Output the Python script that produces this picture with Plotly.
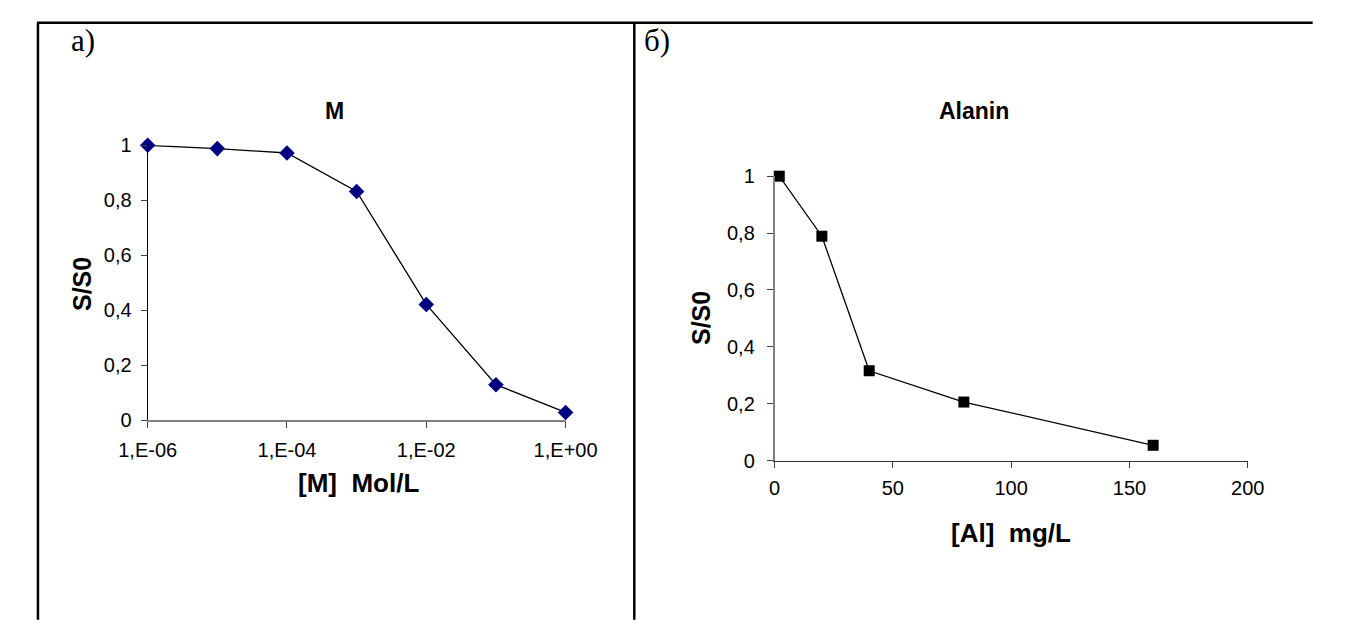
import plotly.graph_objects as go

W, H = 1330, 616

# ---- data ----
m_conc = [1e-6, 1e-5, 1e-4, 1e-3, 1e-2, 1e-1, 1e0]
m_ratio = [1.0, 0.988, 0.972, 0.832, 0.421, 0.129, 0.028]
m_tickvals = [1e-6, 1e-4, 1e-2, 1e0]
m_ticktext = ["1,E-06", "1,E-04", "1,E-02", "1,E+00"]

al_conc = [2, 20, 40, 80, 160]
al_ratio = [1.0, 0.789, 0.316, 0.206, 0.054]
al_tickvals = [0, 50, 100, 150, 200]
al_ticktext = ["0", "50", "100", "150", "200"]

y_tickvals = [0, 0.2, 0.4, 0.6, 0.8, 1.0]
y_ticktext = ["0", "0,2", "0,4", "0,6", "0,8", "1"]

OFF = 8  # body margin of the page


def px(x):
    return (x - OFF) / W


def py(y):
    return 1 - (y - OFF) / H


SANS = "Liberation Sans, Arial, sans-serif"
SERIF = "Liberation Serif, Times New Roman, serif"

fig = go.Figure()

fig.add_trace(go.Scatter(
    x=m_conc, y=m_ratio, mode="lines+markers", xaxis="x", yaxis="y",
    line=dict(color="black", width=1.3),
    marker=dict(symbol="diamond", size=12, color="#000080"),
    cliponaxis=False, showlegend=False))

fig.add_trace(go.Scatter(
    x=al_conc, y=al_ratio, mode="lines+markers", xaxis="x2", yaxis="y2",
    line=dict(color="black", width=1.3),
    marker=dict(symbol="square", size=11, color="black"),
    cliponaxis=False, showlegend=False))

tickfont = dict(family=SANS, size=20, color="black")

fig.update_layout(
    width=W, height=H,
    margin=dict(l=0, r=0, t=0, b=0),
    paper_bgcolor="white", plot_bgcolor="white",
    xaxis=dict(
        type="log", range=[-6, 0], domain=[px(124), px(562)], anchor="y",
        tickvals=m_tickvals, ticktext=m_ticktext, tickfont=tickfont,
        showgrid=False, zeroline=False, showline=True, linecolor="#808080",
        linewidth=1.5, ticks="outside", ticklen=6, tickcolor="#404040",
        ticklabelstandoff=5),
    yaxis=dict(
        range=[0, 1], domain=[py(424), py(139)], anchor="x",
        tickvals=y_tickvals, ticktext=y_ticktext, tickfont=tickfont,
        showgrid=False, zeroline=False, showline=True, linecolor="black",
        linewidth=1, ticks="outside", ticklen=6, tickcolor="#404040",
        ticklabelstandoff=5),
    xaxis2=dict(
        range=[0, 200], domain=[px(781), px(1277)], anchor="y2",
        tickvals=al_tickvals, ticktext=al_ticktext, tickfont=tickfont,
        showgrid=False, zeroline=False, showline=True, linecolor="#303030",
        linewidth=1.2, ticks="outside", ticklen=6, tickcolor="#404040",
        ticklabelstandoff=3),
    yaxis2=dict(
        range=[0, 1], domain=[py(466), py(171)], anchor="x2",
        tickvals=y_tickvals, ticktext=y_ticktext, tickfont=tickfont,
        showgrid=False, zeroline=False, showline=True, linecolor="#808080",
        linewidth=1.5, ticks="outside", ticklen=6, tickcolor="#404040",
        ticklabelstandoff=8),
)

# frame lines
frame = dict(type="line", xref="paper", yref="paper", line=dict(color="black", width=2.5))
fig.add_shape(**frame, x0=px(8), x1=px(1345), y0=py(12), y1=py(12))
fig.add_shape(**frame, x0=px(9), x1=px(9), y0=py(12), y1=py(631))
fig.add_shape(**frame, x0=px(634), x1=px(634), y0=py(12), y1=py(631))


def ann(text, x, y, font, angle=0):
    fig.add_annotation(text=text, x=px(x), y=py(y), xref="paper", yref="paper",
                       showarrow=False, xanchor="center", yanchor="middle",
                       font=font, textangle=angle)


ann("a)", 56, 30, dict(family=SERIF, size=31, color="black"))
ann("б)", 658, 30, dict(family=SERIF, size=31, color="black"))
ann("<b>M</b>", 320, 103, dict(family=SANS, size=23, color="black"))
ann("<b>Alanin</b>", 990, 103, dict(family=SANS, size=23, color="black"))
ann("<b>S/S0</b>", 55, 283, dict(family=SANS, size=25, color="black"), -90)
ann("<b>S/S0</b>", 704, 318, dict(family=SANS, size=25, color="black"), -90)
ann("<b>[M]  Mol/L</b>", 345, 489, dict(family=SANS, size=26, color="black"))
ann("<b>[Al]  mg/L</b>", 1029, 541, dict(family=SANS, size=26, color="black"))

fig.write_html("out.html")
